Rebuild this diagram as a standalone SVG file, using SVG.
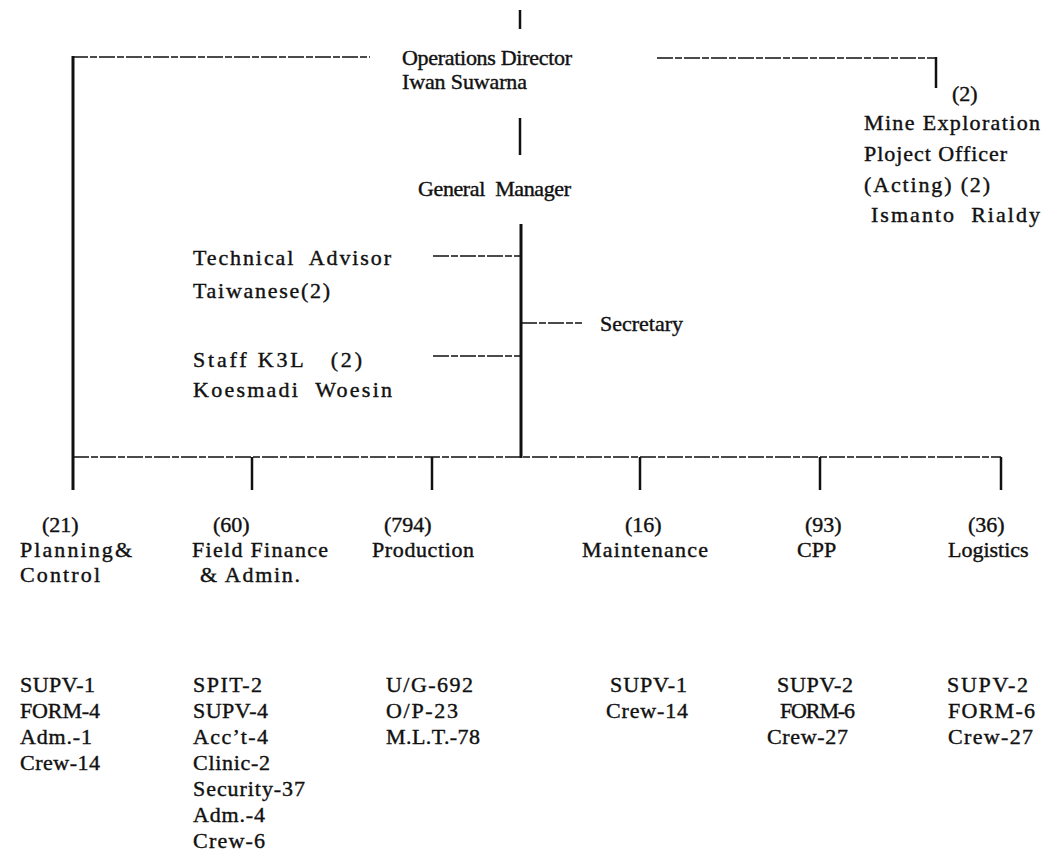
<svg xmlns="http://www.w3.org/2000/svg" width="1054" height="866" viewBox="0 0 1054 866">
<style>
text{font-family:"Liberation Serif","Times New Roman",serif;font-size:22px;fill:#111;stroke:#111;stroke-width:0.4;white-space:pre;}
.v{stroke:#111;stroke-width:2.5;fill:none;}
.vt{stroke:#111;stroke-width:3;fill:none;}
.h{stroke:#111;stroke-width:1.6;fill:none;stroke-dasharray:16 2 7 2;}
</style>
<rect width="1054" height="866" fill="#fff"/>
<g id="connectors">
<line class="v" x1="520" y1="10" x2="520" y2="29"/>
<line class="h" x1="72" y1="57" x2="370" y2="57"/>
<line class="vt" x1="73" y1="56" x2="73" y2="490"/>
<line class="h" x1="657" y1="58" x2="936" y2="58"/>
<line class="v" x1="936" y1="57" x2="936" y2="88"/>
<line class="v" x1="520" y1="118" x2="520" y2="155"/>
<line class="vt" x1="521" y1="224" x2="521" y2="458"/>
<line class="h" x1="433" y1="256" x2="521" y2="256"/>
<line class="h" x1="521" y1="323" x2="582" y2="323"/>
<line class="h" x1="433" y1="356" x2="521" y2="356"/>
<line class="h" x1="73" y1="457" x2="1001" y2="457"/>
<line class="v" x1="252" y1="457" x2="252" y2="490"/>
<line class="v" x1="432" y1="457" x2="432" y2="490"/>
<line class="v" x1="640" y1="457" x2="640" y2="490"/>
<line class="v" x1="820" y1="457" x2="820" y2="490"/>
<line class="v" x1="1001" y1="457" x2="1001" y2="490"/>
</g>
<g id="ops-director"><text x="402" y="65" textLength="170" lengthAdjust="spacing">Operations Director</text><text x="402" y="89" textLength="125" lengthAdjust="spacing">Iwan Suwarna</text></g>
<g id="mine-exploration"><text x="952" y="101">(2)</text><text x="864" y="130" textLength="176" lengthAdjust="spacing">Mine Exploration</text><text x="864" y="161" textLength="143" lengthAdjust="spacing">Ploject Officer</text><text x="864" y="192" textLength="126" lengthAdjust="spacing">(Acting) (2)</text><text x="871" y="222" textLength="169" lengthAdjust="spacing">Ismanto  Rialdy</text></g>
<g id="general-manager"><text x="418" y="196" textLength="153" lengthAdjust="spacing">General  Manager</text></g>
<g id="technical-advisor"><text x="193" y="265" textLength="198" lengthAdjust="spacing">Technical  Advisor</text><text x="193" y="298" textLength="137" lengthAdjust="spacing">Taiwanese(2)</text></g>
<g id="secretary"><text x="600" y="331" textLength="83" lengthAdjust="spacing">Secretary</text></g>
<g id="staff-k3l"><text x="193" y="367" textLength="169" lengthAdjust="spacing">Staff K3L   (2)</text><text x="193" y="397" textLength="199" lengthAdjust="spacing">Koesmadi  Woesin</text></g>
<g id="planning"><text x="42" y="532">(21)</text><text x="20" y="557" textLength="112" lengthAdjust="spacing">Planning&amp;</text><text x="20" y="582" textLength="80" lengthAdjust="spacing">Control</text>
<text x="20" y="692" textLength="75" lengthAdjust="spacing">SUPV-1</text><text x="20" y="718" textLength="80" lengthAdjust="spacing">FORM-4</text><text x="20" y="744" textLength="72" lengthAdjust="spacing">Adm.-1</text><text x="20" y="770" textLength="80" lengthAdjust="spacing">Crew-14</text></g>
<g id="finance"><text x="213" y="532">(60)</text><text x="192" y="557" textLength="136" lengthAdjust="spacing">Field Finance</text><text x="200" y="582" textLength="100" lengthAdjust="spacing">&amp; Admin.</text>
<text x="193" y="692" textLength="69" lengthAdjust="spacing">SPIT-2</text><text x="193" y="718" textLength="75" lengthAdjust="spacing">SUPV-4</text><text x="193" y="744" textLength="75" lengthAdjust="spacing">Acc’t-4</text><text x="193" y="770" textLength="77" lengthAdjust="spacing">Clinic-2</text><text x="193" y="796" textLength="112" lengthAdjust="spacing">Security-37</text><text x="193" y="822" textLength="72" lengthAdjust="spacing">Adm.-4</text><text x="193" y="848" textLength="72" lengthAdjust="spacing">Crew-6</text></g>
<g id="production"><text x="384" y="532">(794)</text><text x="372" y="557" textLength="102" lengthAdjust="spacing">Production</text>
<text x="386" y="692" textLength="87" lengthAdjust="spacing">U/G-692</text><text x="386" y="718" textLength="72" lengthAdjust="spacing">O/P-23</text><text x="386" y="744" textLength="94" lengthAdjust="spacing">M.L.T.-78</text></g>
<g id="maintenance"><text x="625" y="532">(16)</text><text x="582" y="557" textLength="126" lengthAdjust="spacing">Maintenance</text>
<text x="610" y="692" textLength="77" lengthAdjust="spacing">SUPV-1</text><text x="606" y="718" textLength="82" lengthAdjust="spacing">Crew-14</text></g>
<g id="cpp"><text x="805" y="532">(93)</text><text x="797" y="557">CPP</text>
<text x="777" y="692" textLength="76" lengthAdjust="spacing">SUPV-2</text><text x="780" y="718" textLength="75" lengthAdjust="spacing">FORM-6</text><text x="767" y="744" textLength="81" lengthAdjust="spacing">Crew-27</text></g>
<g id="logistics"><text x="968" y="532">(36)</text><text x="948" y="557">Logistics</text>
<text x="947" y="692" textLength="81" lengthAdjust="spacing">SUPV-2</text><text x="948" y="718" textLength="87" lengthAdjust="spacing">FORM-6</text><text x="948" y="744" textLength="85" lengthAdjust="spacing">Crew-27</text></g>
</svg>
